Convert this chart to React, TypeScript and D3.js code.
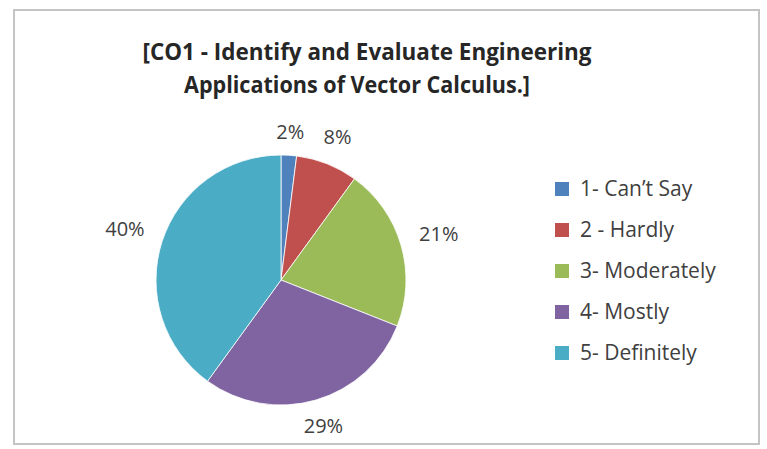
import * as d3 from "d3";

const categories = ["1- Can\u2019t Say", "2 - Hardly", "3- Moderately", "4- Mostly", "5- Definitely"];
const values = [2, 8, 21, 29, 40];
const colors = ["#4F81BD", "#C0504D", "#9BBB59", "#8064A2", "#4BACC6"];
const titleLines = ["[CO1 - Identify and Evaluate Engineering", "Applications of Vector Calculus.]"];

export default function App() {
  const width = 767;
  const height = 449;
  const cx = 281;
  const cy = 280;
  const radius = 125;

  const total = d3.sum(values);
  const pie = d3.pie<number>().sort(null).value((d) => d);
  const arcs = pie(values);
  const arc = d3.arc<d3.PieArcDatum<number>>().innerRadius(0).outerRadius(radius);

  const legendY = d3.scalePoint<number>().domain(d3.range(categories.length)).range([189, 353]);

  return (
    <svg
      width={width}
      height={height}
      style={{ position: "absolute", left: 0, top: 0, background: "#fff" }}
      fontFamily="'Open Sans', 'Noto Sans', sans-serif"
    >
      <rect x={14} y={10} width={745} height={434} fill="#fff" stroke="#c4c4c4" strokeWidth={2} />

      {/* title */}
      <g fill="#262626" fontWeight="bold" fontSize={24} textAnchor="middle">
        <text x={367} y={60} textLength={449} lengthAdjust="spacingAndGlyphs">{titleLines[0]}</text>
        <text x={357} y={93} textLength={346} lengthAdjust="spacingAndGlyphs">{titleLines[1]}</text>
      </g>

      {/* pie */}
      <g transform={`translate(${cx},${cy})`}>
        {arcs.map((a, i) => (
          <path key={i} d={arc(a) ?? ""} fill={colors[i]} stroke="#fff" strokeWidth={0.8} />
        ))}
        {arcs.map((a, i) => {
          const mid = (a.startAngle + a.endAngle) / 2;
          const r = radius + 22 + 18 * Math.abs(Math.sin(mid));
          return (
            <text
              key={i}
              x={Math.sin(mid) * r}
              y={-Math.cos(mid) * r}
              dy="0.35em"
              textAnchor="middle"
              fontSize={20}
              fill="#404040"
            >
              {`${Math.round((values[i] / total) * 100)}%`}
            </text>
          );
        })}
      </g>

      {/* legend */}
      <g>
        {categories.map((c, i) => (
          <g key={c} transform={`translate(555,${legendY(i)})`}>
            <rect x={0} y={-7} width={14} height={14} fill={colors[i]} />
            <text x={25} dy="0.35em" fontSize={21} fill="#404040">{c}</text>
          </g>
        ))}
      </g>
    </svg>
  );
}
